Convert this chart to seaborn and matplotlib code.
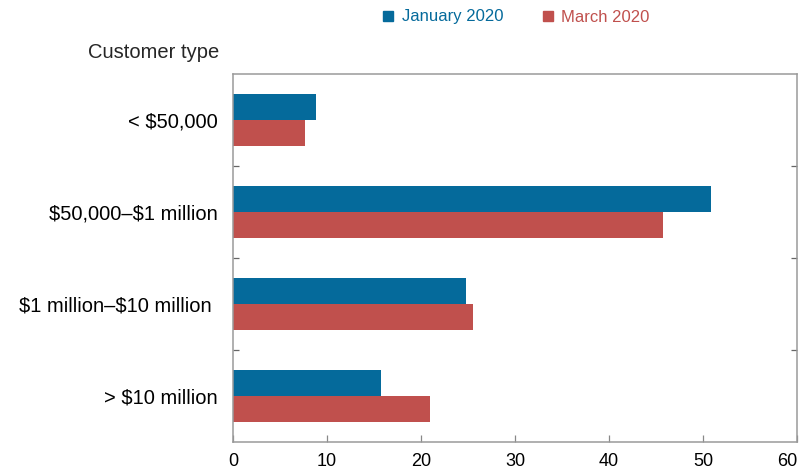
import matplotlib
matplotlib.use("Agg")
import matplotlib.pyplot as plt
from matplotlib.lines import Line2D
from matplotlib.ticker import FixedLocator
import seaborn as sns
import pandas as pd

categories = ["< $50,000", "$50,000\u2013$1 million", "$1 million\u2013$10 million ", "> $10 million"]
series_names = ["January 2020", "March 2020"]
jan_2020 = [8.8, 50.8, 24.8, 15.7]
mar_2020 = [7.7, 45.7, 25.5, 21.0]
x_ticks = [0, 10, 20, 30, 40, 50, 60]

colors = ["#056a9b", "#c0504d"]
spine_gray = "#9a9a9a"

sns.set_theme(style="white")
plt.rcParams["font.family"] = ["Liberation Sans", "DejaVu Sans"]

df = pd.DataFrame({
    "type": categories * 2,
    "value": jan_2020 + mar_2020,
    "series": [series_names[0]] * 4 + [series_names[1]] * 4,
})

fig = plt.figure(figsize=(8.02, 4.74), dpi=100)
ax = fig.add_axes([233 / 802, 32 / 474, (797 - 233) / 802, (442 - 74) / 474])

sns.barplot(data=df, y="type", x="value", hue="series", order=categories,
            hue_order=series_names, palette=colors, orient="h", width=0.57,
            ax=ax, saturation=1, legend=False, edgecolor="none")

ax.set_xlim(0, 60)
ax.set_ylim(3.5, -0.5)
ax.set_xticks(x_ticks)
xlabels = ax.set_xticklabels([str(t) for t in x_ticks], fontsize=13)
xlabels[-1].set_horizontalalignment("right")
ax.set_yticks(range(len(categories)))
ax.set_yticklabels([c.replace("$", r"\$") for c in categories], fontsize=14.5)
ax.yaxis.set_minor_locator(FixedLocator([0.5, 1.5, 2.5]))
ax.tick_params(axis="y", which="major", length=0, pad=11, colors="black")
ax.tick_params(axis="y", which="minor", direction="in", length=4, width=0.9, color="#666666",
               left=True, right=True)
ax.tick_params(axis="x", which="major", direction="in", length=5, width=0.9, color="#888888",
               bottom=True, pad=8, labelcolor="black")
ax.set_xlabel("")
ax.set_ylabel("")
for s in ["top", "right", "left", "bottom"]:
    ax.spines[s].set_visible(True)
    ax.spines[s].set_color(spine_gray)
    ax.spines[s].set_linewidth(1.1)

fig.text(219 / 802, 1 - 53 / 474, "Customer type", ha="right", va="center", fontsize=14.5)

handles = [Line2D([], [], marker="s", linestyle="none", color=c, markersize=7.5) for c in colors]
leg = fig.legend(handles, series_names, loc="center left", bbox_to_anchor=(365 / 802, 1 - 17 / 474),
                 ncol=2, frameon=False, fontsize=12, handletextpad=0.3, columnspacing=2.2,
                 handlelength=1.0, labelcolor=colors)

fig.savefig("out.png", dpi=100)
